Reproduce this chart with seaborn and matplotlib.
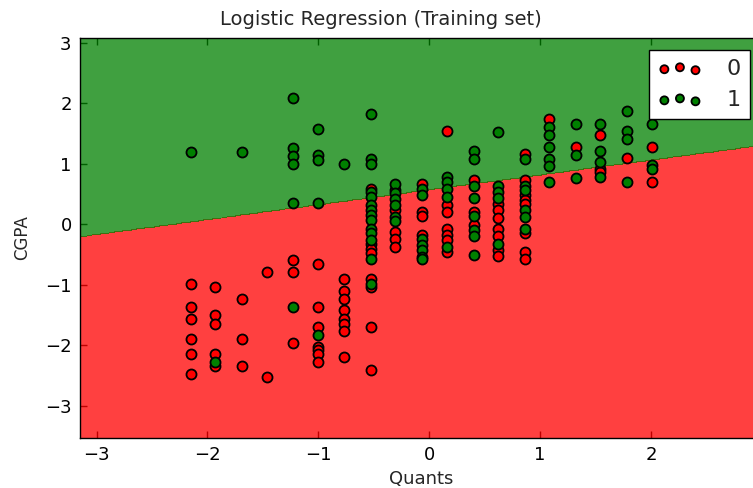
import matplotlib
matplotlib.use('Agg')
import matplotlib.pyplot as plt
from matplotlib.colors import ListedColormap
import seaborn as sns
import numpy as np

# class 0 (not selected) - standardised scores
quants_0 = [-2.15, -2.15, -2.15, -2.15, -2.15, -2.15,
            -1.93, -1.93, -1.93, -1.93, -1.93,
            -1.69, -1.69, -1.69,
            -1.46, -1.46,
            -1.23, -1.23, -1.23,
            -1.00, -1.00, -1.00, -1.00, -1.00, -1.00, -1.00,
            -0.77, -0.77, -0.77, -0.77, -0.77, -0.77, -0.77, -0.77,
            -0.53, -0.53, -0.53, -0.53, -0.53, -0.53, -0.53, -0.53,
            -0.31, -0.31, -0.31, -0.31, -0.31,
            -0.07, -0.07, -0.07, -0.07,
            0.16, 0.16, 0.16, 0.16, 0.16, 0.16, 0.16,
            0.40, 0.40, 0.40,
            0.62, 0.62, 0.62, 0.62, 0.62, 0.62, 0.62,
            0.86, 0.86, 0.86, 0.86, 0.86, 0.86, 0.86, 0.86,
            1.08, 1.32, 1.54, 1.54, 1.54, 1.78, 2.01, 2.01]
cgpa_0 = [-0.98, -1.36, -1.57, -1.89, -2.15, -2.47,
          -1.04, -1.50, -1.64, -2.15, -2.34,
          -1.23, -1.89, -2.34,
          -0.79, -2.53,
          -0.59, -0.79, -1.96,
          -0.65, -1.36, -1.70, -2.02, -2.08, -2.15, -2.27,
          -0.91, -1.10, -1.23, -1.42, -1.57, -1.64, -1.76, -2.20,
          0.59, -0.33, -0.40, -0.47, -0.91, -1.04, -1.70, -2.41,
          0.56, 0.23, -0.13, -0.25, -0.38,
          0.66, 0.21, 0.13, -0.18,
          1.54, 0.32, 0.21, -0.07, -0.18, -0.26, -0.46,
          0.73, 0.21, -0.01,
          0.33, 0.24, 0.11, -0.07, -0.19, -0.43, -0.52,
          1.17, 0.73, 0.48, 0.40, 0.33, -0.14, -0.46, -0.57,
          1.74, 1.28, 1.47, 0.92, 0.87, 1.10, 1.28, 0.70]

# class 1 (selected)
quants_1 = [-2.15, -1.93, -1.69,
            -1.23, -1.23, -1.23, -1.23, -1.23, -1.23,
            -1.00, -1.00, -1.00, -1.00, -1.00,
            -0.77,
            -0.53, -0.53, -0.53, -0.53, -0.53, -0.53, -0.53, -0.53, -0.53, -0.53, -0.53, -0.53, -0.53, -0.53,
            -0.31, -0.31, -0.31, -0.31, -0.31, -0.31,
            -0.07, -0.07, -0.07, -0.07, -0.07, -0.07, -0.07,
            0.16, 0.16, 0.16, 0.16, 0.16,
            0.40, 0.40, 0.40, 0.40, 0.40, 0.40, 0.40, 0.40,
            0.62, 0.62, 0.62, 0.62, 0.62,
            0.86, 0.86, 0.86, 0.86, 0.86, 0.86,
            1.08, 1.08, 1.08, 1.08, 1.08, 1.08,
            1.32, 1.32, 1.32,
            1.54, 1.54, 1.54, 1.54,
            1.78, 1.78, 1.78, 1.78,
            2.01, 2.01, 2.01]
cgpa_1 = [1.19, -2.28, 1.19,
          2.09, 1.26, 1.13, 1.00, 0.36, -1.36,
          1.58, 1.14, 1.07, 0.36, -1.83,
          1.00,
          1.83, 1.08, 1.00, 0.53, 0.45, 0.32, 0.23, 0.15, 0.07, -0.07, -0.15, -0.26, -0.57, -0.98,
          0.66, 0.51, 0.42, 0.32, 0.12, 0.05,
          0.59, 0.48, -0.25, -0.34, -0.43, -0.54, -0.58,
          0.79, 0.70, 0.59, 0.45, -0.37,
          1.22, 1.08, 0.64, 0.44, 0.13, -0.10, -0.19, -0.51,
          1.53, 0.64, 0.53, 0.44, -0.32,
          1.08, 0.64, 0.57, 0.24, 0.12, -0.07,
          1.61, 1.47, 1.28, 1.08, 0.97, 0.70,
          1.66, 1.15, 0.77,
          1.66, 1.22, 1.03, 0.79,
          1.87, 1.54, 1.41, 0.70,
          1.66, 0.98, 0.91]

# fitted logistic model (decision function = w0*x + w1*y + b)
coef = [-0.246, 1.0]
intercept = -0.57

sns.set_style('ticks', {'xtick.direction': 'in', 'ytick.direction': 'in',
                        'axes.edgecolor': 'black'})
plt.rcParams['font.family'] = ['DejaVu Sans']

fig = plt.figure(figsize=(7.53, 4.88), dpi=100)
ax = fig.add_axes([0.1062, 0.1025, 0.9057, 0.8197])

x_min, x_max = -3.15, 3.0
y_min, y_max = -3.53, 3.08
X1, X2 = np.meshgrid(np.arange(x_min, x_max, 0.01), np.arange(y_min, y_max, 0.01))
Z = (coef[0] * X1 + coef[1] * X2 + intercept > 0).astype(int)
ax.contourf(X1, X2, Z, levels=[-0.5, 0.5, 1.5], alpha=0.75,
            cmap=ListedColormap(('red', 'green')))

sns.scatterplot(x=quants_0, y=cgpa_0, color='red', edgecolor='black', linewidth=1.3,
                s=52, label='0', ax=ax)
sns.scatterplot(x=quants_1, y=cgpa_1, color='green', edgecolor='black', linewidth=1.3,
                s=52, label='1', ax=ax)

ax.set_xlim(x_min, x_max)
ax.set_ylim(y_min, y_max)
ax.set_xticks([-3, -2, -1, 0, 1, 2])
ax.set_yticks([-3, -2, -1, 0, 1, 2, 3])
ax.tick_params(axis='both', which='major', labelsize=13, length=5, width=1,
               top=True, right=True, colors='black', pad=6)
for sp in ax.spines.values():
    sp.set_linewidth(1)
    sp.set_color('black')

ax.set_title('Logistic Regression (Training set)', fontsize=14, x=0.441, pad=9)
ax.set_xlabel('Quants', fontsize=13)
ax.set_ylabel('CGPA', fontsize=12, labelpad=10)

leg = ax.legend(loc='upper right', scatterpoints=3, markerscale=0.8, fontsize=16,
                frameon=True, fancybox=False, edgecolor='black', framealpha=1,
                handletextpad=1.1, borderaxespad=0.55, borderpad=0.4)
leg.get_frame().set_linewidth(1)

plt.savefig('out.png', dpi=100)
